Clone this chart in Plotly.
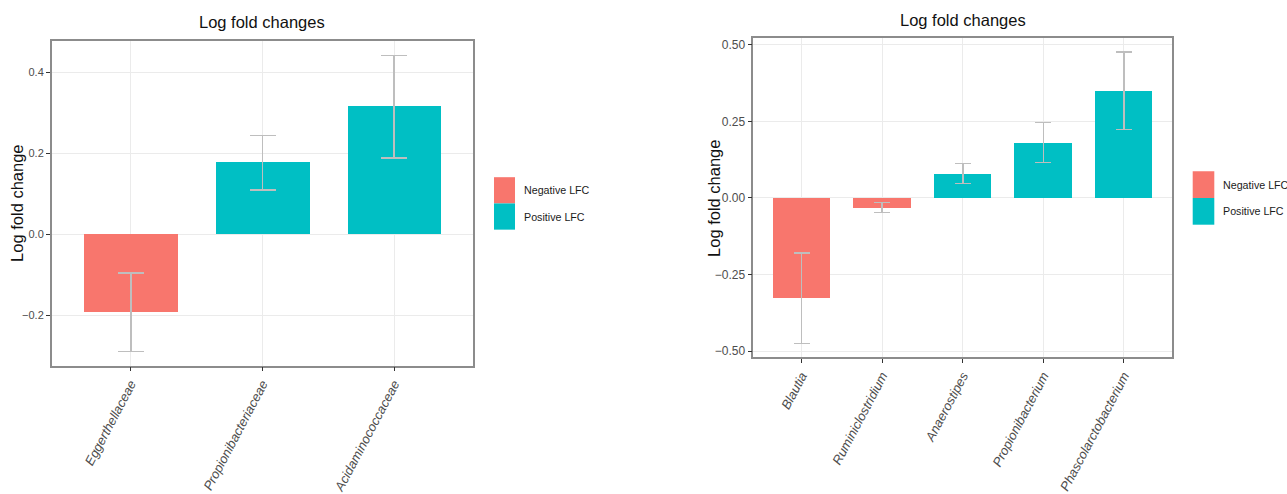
import plotly.graph_objects as go

# ---- data -------------------------------------------------------------
family_names = ["Eggerthellaceae", "Propionibacteriaceae", "Acidaminococcaceae"]
family_lfc = [-0.193, 0.177, 0.316]
family_se = [0.097, 0.067, 0.127]

genus_names = ["Blautia", "Ruminiclostridium", "Anaerostipes",
               "Propionibacterium", "Phascolarctobacterium"]
genus_lfc = [-0.328, -0.031, 0.080, 0.181, 0.350]
genus_se = [0.148, 0.016, 0.033, 0.065, 0.127]

family_yticks = [-0.2, 0.0, 0.2, 0.4]
family_yticktext = ["\u22120.2", "0.0", "0.2", "0.4"]
genus_yticks = [-0.5, -0.25, 0.0, 0.25, 0.5]
genus_yticktext = ["\u22120.50", "\u22120.25", "0.00", "0.25", "0.50"]

legend_labels = ["Negative LFC", "Positive LFC"]

# ---- styling ----------------------------------------------------------
NEG = "#F8766D"
POS = "#00BFC4"
ERR = "#BEBEBE"
GRID = "#EBEBEB"
FRAME = "#8C8C8C"
TICKTXT = "#4D4D4D"
SANS = "Liberation Sans, Arial, sans-serif"

W, H = 1287, 494


def px_x(x):
    return x / W


def px_y(y):
    return 1 - y / H


def sign_colors(vals):
    return [NEG if v < 0 else POS for v in vals]


fig = go.Figure()

fig.add_trace(go.Bar(
    x=family_names, y=family_lfc, width=0.71,
    marker=dict(color=sign_colors(family_lfc), line=dict(width=0)),
    error_y=dict(type="data", array=family_se, color=ERR, thickness=1.5, width=13),
    xaxis="x", yaxis="y", showlegend=False,
))
fig.add_trace(go.Bar(
    x=genus_names, y=genus_lfc, width=0.71,
    marker=dict(color=sign_colors(genus_lfc), line=dict(width=0)),
    error_y=dict(type="data", array=genus_se, color=ERR, thickness=1.5, width=8),
    xaxis="x2", yaxis="y2", showlegend=False,
))

xcommon = dict(
    type="category", showgrid=True, gridcolor=GRID, gridwidth=1.3,
    showline=True, linecolor=FRAME, linewidth=1.5, mirror=True,
    ticks="outside", ticklen=4, tickcolor="#333333", tickwidth=1,
    tickangle=-62, zeroline=False,
    tickfont=dict(family=SANS, size=13, color=TICKTXT, style="italic"),
)
ycommon = dict(
    showgrid=True, gridcolor=GRID, gridwidth=1.3,
    showline=True, linecolor=FRAME, linewidth=1.5, mirror=True,
    ticks="outside", ticklen=4, tickcolor="#333333", tickwidth=1,
    zeroline=False,
)

fig.update_layout(
    width=W, height=H, autosize=False,
    margin=dict(l=0, r=0, t=0, b=0),
    paper_bgcolor="white", plot_bgcolor="white",
    bargap=0,
    xaxis=dict(xcommon, domain=[px_x(51.7), px_x(473.3)], range=[-0.6, 2.6],
               anchor="y"),
    yaxis=dict(ycommon, domain=[px_y(369.3), px_y(41.7)],
               range=[-0.3248, 0.4776], tickvals=family_yticks,
               ticktext=family_yticktext, anchor="x",
               tickfont=dict(family=SANS, size=11, color=TICKTXT)),
    xaxis2=dict(xcommon, domain=[px_x(753.3), px_x(1172.3)], range=[-0.6, 4.6],
                anchor="y2"),
    yaxis2=dict(ycommon, domain=[px_y(361), px_y(38.3)],
                range=[-0.5205, 0.5228], tickvals=genus_yticks,
                ticktext=genus_yticktext, anchor="x2",
                tickfont=dict(family=SANS, size=12, color=TICKTXT)),
)

annotations = []
shapes = []

# panel titles and y-axis titles
for cx, cy in [(262.2, 22.5), (962.8, 20.5)]:
    annotations.append(dict(
        text="Log fold changes", x=px_x(cx), y=px_y(cy), xref="paper", yref="paper",
        xanchor="center", yanchor="middle", showarrow=False,
        font=dict(family=SANS, size=16.5, color="#111111"),
    ))
for cx, cy in [(17, 206), (714, 201)]:
    annotations.append(dict(
        text="Log fold change", x=px_x(cx), y=px_y(cy), xref="paper", yref="paper",
        xanchor="center", yanchor="middle", textangle=-90, showarrow=False,
        font=dict(family=SANS, size=16.5, color="#111111"),
    ))

# legend keys and labels for each panel
for kx0, kx1, ky0, kmid, ky1, tx in [
    (494, 515, 179, 205.5, 232, 522),
    (1192.7, 1214.3, 173, 200, 227, 1220.5),
]:
    for (a, b), col, lab in zip([(ky0, kmid), (kmid, ky1)], [NEG, POS], legend_labels):
        shapes.append(dict(
            type="rect", xref="paper", yref="paper",
            x0=px_x(kx0), x1=px_x(kx1), y0=px_y(b), y1=px_y(a),
            fillcolor=col, line=dict(width=0),
        ))
        annotations.append(dict(
            text=lab, x=px_x(tx), y=px_y((a + b) / 2), xref="paper", yref="paper",
            xanchor="left", yanchor="middle", showarrow=False,
            font=dict(family=SANS, size=10.7, color="#1A1A1A"),
        ))

fig.update_layout(annotations=annotations, shapes=shapes)

fig.write_html("out.html")
